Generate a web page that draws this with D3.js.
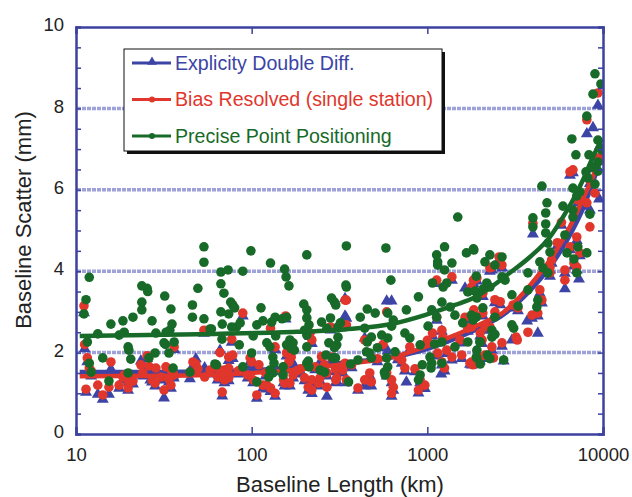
<!DOCTYPE html>
<html><head><meta charset="utf-8">
<script src="https://cdn.jsdelivr.net/npm/d3@7"></script>
<style>body{margin:0;background:#fff}svg{display:block}text{font-family:"Liberation Sans",Arial,Helvetica,sans-serif}</style>
</head><body><svg id="c" width="632" height="497"></svg>
<script>
const xTicks=[10,100,1000,10000];
const yTicks=[0,2,4,6,8,10];
const gridValues=[2,4,6,8];
const seriesNames=["Explicity Double Diff.","Bias Resolved (single station)","Precise Point Positioning"];

const blueFit=[[10.5,1.52],[30,1.52],[100,1.56],[200,1.65],[340,1.75],[655,1.9],[968,2.08],[1436,2.35],[2128,2.68],[2692,2.93],[3365,3.28],[4207,3.72],[5190,4.22],[6486,4.9],[7690,5.55],[8750,6.2],[9860,6.85]];
const redFit=[[10.5,1.42],[30,1.43],[100,1.5],[200,1.6],[340,1.72],[655,1.9],[968,2.14],[1436,2.43],[2128,2.75],[2692,2.98],[3365,3.37],[4207,3.86],[5190,4.38],[6486,5.1],[7690,5.78],[9230,6.6],[9860,7.05]];
const greenFit=[[10.5,2.41],[62,2.46],[150,2.5],[340,2.57],[655,2.72],[968,2.92],[1436,3.17],[1866,3.36],[2270,3.59],[2951,3.96],[3836,4.35],[4990,4.84],[5915,5.33],[6745,5.75],[7690,6.24],[8750,6.8],[9860,7.25]];

const bluePts=[[11.1,3.0],[11.2,2.12],[11.6,1.8],[11.4,1.05],[11.9,1.5],[12.2,1.45],[13.3,1.0],[14.2,0.88],[15.4,1.0],[15.8,1.62],[17.6,1.15],[18.5,1.35],[18.8,1.4],[19.8,1.1],[20,1.3],[20.5,1.45],[21.1,1.25],[23.4,1.82],[24,1.45],[24.5,1.55],[25.4,1.88],[26,1.6],[27.1,1.3],[28.5,1.55],[28.2,1.2],[26.5,1.35],[30.5,1.35],[31.7,0.91],[32.5,1.6],[33.8,1.3],[34.7,1.15],[35.7,1.45],[36.2,2.1],[36,1.4],[35,1.5],[44.5,1.38],[46.3,1.7],[48.1,1.87],[49.4,1.55],[53.5,2.5],[54,1.65],[58,1.5],[61.8,1.6],
[89,2.92],[156,2.85],[77,2.28],[66,2.08],[74,1.83],[78,1.88],[66,1.5],[70,1.52],[74,1.56],[64,1.35],[70,1.28],[74,1.33],[68,0.96],[98,1.8],[100,1.72],[110,1.65],[102,1.28],[107,0.9],[116,1.15],[122,1.13],[128,1.07],[136,0.95],[128,2.55],[136,2.1],[158,1.94],[168,1.83],[163,1.72],[154,1.6],[152,1.28],[154,1.2],[165,1.2],[172,1.4],[215,2.42],[220,2.25],[200,1.33],[220,1.28],[220,1.02],[210,1.1],[240,1.2],[245,1.32],[268,1.45],[268,0.95],[281,2.58],[285,1.83],[301,1.28],[305,1.32],[340,3.35],[340,2.92],[330,1.52],[346,1.28],[180,1.5],[190,1.55],[120,1.45],[95,1.4],[84,1.5],[260,1.65],[300,1.55],[230,1.6],[250,1.85],[140,1.55],[175,1.7],
[346,2.87],[440,2.38],[340,1.68],[371,1.65],[470,1.45],[480,1.2],[440,1.2],[403,1.1],[626,1.28],[640,1.1],[626,0.95],[587,1.45],[587,3.29],[626,3.29],[795,2.1],[745,1.57],[715,1.76],[910,1.28],[968,1.14],[890,1.03],[1070,2.43],[1130,2.82],[1130,3.72],[1380,3.8],[1210,2.55],[1225,2.33],[1145,1.94],[1210,1.72],[1253,1.57],[1290,2.0],[1380,1.84],[1530,2.26],[1570,1.88],[1750,1.74],[1640,3.61],[1830,3.72],[1640,2.82],[1700,2.55],[2000,2.43],[2050,2.25],[595,2.06],[550,2.14],[520,1.8],[680,1.85],[850,1.55],[1000,2.25],[560,2.15],[760,1.3],[1200,1.5],
[9360,8.1],[8770,7.55],[8090,7.4],[9360,6.72],[9000,6.54],[6745,6.44],[6486,6.38],[8420,6.18],[9500,5.8],[8420,5.53],[7190,5.7],[8090,5.62],[7090,4.78],[6486,4.55],[7380,4.4],[6830,4.15],[7090,4.05],[6070,3.97],[6070,3.59],[7300,3.83],[3990,4.94],[5100,4.22],[4990,4.05],[4990,3.9],[4370,3.48],[4490,3.24],[4255,2.92],[3940,2.87],[3700,2.8],[4255,2.5],[3080,3.12],[3280,3.05],[3030,2.33],[2660,4.1],[2560,4.3],[2330,4.05],[2270,4.02],[1915,3.78],[2425,3.25],[2600,3.2],[2425,2.95],[1870,3.54],[2070,3.4],[2070,2.92],[1840,3.0],[1820,2.75],[2270,2.58],[2128,2.58],[2330,2.08],[2660,2.18],[2128,1.88],[1990,1.82],[2720,1.82],[1790,1.72],[5500,4.65],[5800,5.15],[9860,6.9],[9600,7.1]];

const redPts=[[11.1,3.15],[11.2,2.2],[11.6,1.87],[11.4,1.1],[11.9,1.62],[12.2,1.55],[13.3,1.2],[14.2,0.96],[15.4,1.15],[15.8,1.77],[17.6,1.2],[18.5,1.4],[18.8,1.45],[19.8,1.13],[20.0,1.28],[21.1,1.3],[23.4,1.7],[24,1.5],[25.4,1.92],[26,1.67],[27.1,1.33],[28.5,1.62],[28.2,1.25],[30.5,1.4],[31.7,1.08],[32.5,1.65],[33.8,1.35],[34.7,1.2],[35.7,1.5],[36.2,2.14],[36,1.45],[35,1.55],[44.5,1.52],[46.3,1.77],[48.1,1.72],[49.4,1.6],[53.5,2.55],[54,1.4],[58,1.57],[61.8,1.65],
[89,2.97],[156,2.9],[77,2.33],[66,2.0],[74,1.89],[78,1.94],[66,1.57],[70,1.57],[74,1.62],[64,1.4],[70,1.33],[74,1.38],[68,1.03],[98,1.87],[100,1.77],[110,1.7],[102,1.33],[107,0.96],[116,1.2],[122,1.2],[128,1.13],[136,1.0],[128,2.6],[136,2.14],[158,1.99],[168,1.89],[163,1.77],[154,1.65],[152,1.33],[154,1.25],[165,1.25],[172,1.45],[215,2.48],[220,2.31],[200,1.38],[220,1.33],[220,1.08],[210,1.15],[240,1.25],[245,1.38],[268,1.5],[268,1.15],[281,2.63],[285,1.89],[301,1.33],[305,1.38],[340,3.29],[330,1.57],[346,1.33],[180,1.55],[190,1.6],[120,1.5],[95,1.45],[84,1.55],[260,1.7],[300,1.6],[230,1.65],[250,1.9],
[346,3.29],[346,2.68],[440,2.31],[340,1.74],[371,1.7],[470,1.5],[480,1.28],[440,1.33],[403,1.13],[626,1.33],[640,1.15],[626,1.0],[587,1.5],[587,3.0],[795,2.14],[745,1.62],[715,1.82],[910,1.33],[968,1.2],[890,1.08],[1070,2.48],[1130,2.87],[1130,3.78],[1380,3.86],[1210,2.55],[1225,2.38],[1145,1.99],[1210,1.77],[1253,1.62],[1290,2.06],[1380,1.89],[1530,2.31],[1570,1.94],[1750,1.74],[1780,3.61],[1830,3.78],[1640,2.87],[1700,2.6],[2000,2.48],[2050,2.31],[520,1.85],[680,1.9],[850,1.6],[1000,2.3],[560,2.2],
[9360,8.38],[8090,7.72],[9360,6.78],[9730,6.73],[6745,6.49],[6486,6.44],[8420,6.24],[9000,5.92],[8420,5.09],[7190,5.75],[8090,5.68],[7090,4.84],[6486,4.6],[7380,4.45],[6830,4.2],[7090,4.1],[6070,4.03],[6070,3.78],[3990,5.18],[5100,4.28],[4990,4.1],[4990,3.96],[4370,3.54],[4490,3.29],[4255,2.97],[3940,2.92],[3740,2.5],[3080,3.17],[3280,3.1],[3200,2.38],[3250,2.31],[2660,4.15],[2560,4.35],[2330,4.1],[2270,4.08],[1915,3.83],[2425,3.3],[2600,3.25],[2425,3.0],[2070,3.46],[2070,2.97],[1840,3.05],[1820,2.8],[1790,2.63],[2270,2.63],[2128,2.63],[2330,2.14],[2660,2.24],[2128,1.94],[1990,1.87],[2380,1.87],[1790,1.77],[1820,1.7],[5500,4.7],[5800,5.2]];

const greenPts=[[11.1,2.95],[11.4,3.3],[11.9,3.85],[11.6,2.26],[11.9,1.74],[12.2,1.52],[14.2,1.87],[13.3,2.46],[15.8,2.7],[15.4,1.3],[17.6,2.43],[18.5,2.78],[18.8,2.5],[19.8,2.14],[20,2.06],[20.5,1.84],[19.8,1.5],[21.1,2.87],[23.7,3.64],[25.4,3.58],[25.6,3.5],[23.7,3.24],[23.7,3.05],[27.1,2.78],[28.5,2.48],[28.2,1.99],[26,1.87],[32,3.39],[34.7,3.07],[35.2,2.7],[34.2,2.55],[32.6,2.5],[31.7,2.24],[32.3,2.2],[33.8,1.99],[36.2,2.26],[35.7,1.62],[46,3.17],[46,2.87],[49.4,3.58],[53.5,4.22],[53.5,4.6],[53.5,2.83],[58,2.58],[44.5,1.52],[61.8,1.72],
[99,4.5],[66.8,3.98],[73.4,4.03],[89,4.0],[128,4.2],[206,4.4],[346,4.62],[154,4.05],[157,3.86],[163,3.64],[66.8,3.69],[69.5,3.46],[76,3.24],[78,3.17],[80,3.1],[66.8,3.0],[74,2.95],[68,2.7],[77,2.63],[82,2.63],[86,2.73],[113,3.1],[107,2.68],[116,2.78],[102,2.41],[85,2.19],[67.8,2.33],[59,2.58],[130,2.75],[136,2.87],[149,2.83],[158,2.87],[137,2.41],[122,2.24],[127,2.14],[165,2.31],[158,2.19],[172,2.24],[168,2.1],[175,2.06],[198,3.19],[206,3.05],[206,2.85],[212,2.68],[200,2.55],[206,2.43],[206,2.14],[210,1.79],[206,1.74],[212,1.65],[132,1.89],[134,1.74],[127,1.57],[132,1.5],[125,1.4],[100,1.99],[89,1.65],[63,1.7],[151,1.65],[151,1.45],[107,1.28],[250,2.75],[281,2.85],[268,2.6],[285,3.34],[296,3.24],[301,3.17],[275,2.24],[305,2.19],[296,2.12],[310,2.38],[310,2.63],[320,2.73],[265,1.94],[290,1.87],[300,1.87],[344,3.66],[245,1.57],[260,1.52],
[581,4.57],[1490,5.33],[1253,4.6],[1670,4.45],[1830,4.55],[1130,4.4],[1145,4.23],[1145,4.15],[1380,4.2],[1253,4.03],[1290,3.71],[1230,3.61],[346,3.61],[620,3.78],[890,3.37],[1070,3.71],[1210,3.24],[1900,3.88],[1700,3.49],[455,3.07],[505,2.97],[415,2.87],[760,3.05],[595,2.97],[640,2.8],[626,2.65],[440,2.6],[1060,3.05],[1130,2.87],[1010,2.65],[1350,3.12],[1436,2.92],[1590,2.73],[1780,2.92],[1900,2.87],[550,2.43],[595,2.36],[480,2.38],[455,2.26],[745,2.48],[795,2.36],[910,2.19],[520,2.12],[450,2.02],[470,1.99],[480,1.87],[403,1.82],[366,1.72],[356,1.28],[587,1.87],[595,1.65],[570,1.52],[575,1.45],[655,2.02],[936,1.7],[910,1.45],[890,1.33],[1035,1.89],[1060,1.74],[1050,1.62],[1100,2.21],[1210,2.26],[1210,1.74],[1436,2.14],[1700,2.26],[2000,2.26],[1900,1.89],
[9000,8.85],[9730,8.6],[8770,8.35],[8090,7.81],[9360,7.22],[9860,6.98],[6650,7.25],[7010,6.86],[8320,6.86],[9360,6.68],[8000,6.44],[8650,6.56],[8200,6.29],[9360,6.46],[9000,6.14],[4490,6.09],[6745,6.04],[7380,5.95],[7090,5.85],[4800,5.68],[4720,5.43],[5915,5.6],[8420,5.4],[3990,5.31],[3990,5.09],[4720,5.16],[4720,4.94],[6745,5.5],[6745,5.33],[6070,4.89],[4860,4.69],[4990,4.47],[6240,4.45],[6830,4.3],[7190,4.6],[8090,4.45],[4370,4.23],[4550,4.08],[4860,3.96],[7090,3.96],[2660,4.35],[2270,4.4],[2128,4.23],[2425,4.15],[1840,4.52],[3740,3.96],[2180,3.71],[2270,3.61],[2660,3.86],[2770,3.78],[1870,3.51],[1915,3.34],[2070,3.56],[3740,3.54],[4255,3.29],[4200,3.12],[3030,3.42],[3280,3.14],[2070,3.1],[1870,2.87],[1820,2.8],[2425,2.87],[2330,2.38],[1990,2.26],[1915,2.06],[3030,2.68],[3100,2.6],[2330,2.55],[2425,2.45],[2200,1.94],[2270,1.85],[1915,1.87],[2000,1.72],[2720,1.82]];

const BLUE="#3c44a6", RED="#e0362c", GREEN="#176a28", FRAME="#3c429e", GRID="#9ea2d8";

const svg=d3.select("#c");
const x=d3.scaleLog().domain([10,10000]).range([76,603]);
const y=d3.scaleLinear().domain([0,10]).range([434,27]);

svg.append("defs").append("clipPath").attr("id","clip").append("rect")
  .attr("x",76).attr("y",27).attr("width",527).attr("height",407);

// grid
svg.append("g").selectAll("line").data(gridValues).join("line")
  .attr("x1",77).attr("x2",602).attr("y1",d=>y(d)).attr("y2",d=>y(d))
  .attr("stroke",GRID).attr("stroke-width",3.5).attr("stroke-dasharray","4,1");

const plot=svg.append("g").attr("clip-path","url(#clip)");
const line=d3.line().x(d=>x(d[0])).y(d=>y(d[1])).curve(d3.curveMonotoneX);
const tri=d3.symbol().type(d3.symbolTriangle).size(62);

plot.append("g").selectAll("path").data(bluePts).join("path")
  .attr("d",tri).attr("transform",d=>`translate(${x(d[0])},${y(d[1])+1})`).attr("fill",BLUE);
plot.append("path").datum(blueFit).attr("d",line).attr("fill","none").attr("stroke",BLUE).attr("stroke-width",5);
plot.append("g").selectAll("circle").data(redPts).join("circle")
  .attr("cx",d=>x(d[0])).attr("cy",d=>y(d[1])).attr("r",4.8).attr("fill",RED);
plot.append("path").datum(redFit).attr("d",line).attr("fill","none").attr("stroke",RED).attr("stroke-width",4.5);
plot.append("g").selectAll("circle").data(greenPts).join("circle")
  .attr("cx",d=>x(d[0])).attr("cy",d=>y(d[1])).attr("r",4.8).attr("fill",GREEN);
plot.append("path").datum(greenFit).attr("d",line).attr("fill","none").attr("stroke",GREEN).attr("stroke-width",4.5);

// axes
const minorY=d3.range(0,10.01,0.5);
const axL=svg.append("g").attr("transform","translate(76,0)")
  .call(d3.axisLeft(y).tickValues(minorY).tickSize(-5).tickPadding(12).tickFormat(d=>yTicks.includes(d)?d:""));
const axR=svg.append("g").attr("transform","translate(603,0)")
  .call(d3.axisRight(y).tickValues(minorY).tickSize(-5).tickFormat(""));
const axB=svg.append("g").attr("transform","translate(0,434)")
  .call(d3.axisBottom(x).tickValues(xTicks).tickSize(-7).tickPadding(14).tickFormat(d3.format("d")));
const axT=svg.append("g").attr("transform","translate(0,27)")
  .call(d3.axisTop(x).tickValues(xTicks).tickSize(-7).tickFormat(""));
[axL,axR,axB,axT].forEach(a=>{
  a.select(".domain").attr("stroke",FRAME).attr("stroke-width",2.5);
  a.selectAll(".tick line").attr("stroke",FRAME).attr("stroke-width",1.5);
  a.selectAll("text").attr("font-size",18.5).attr("fill","#222").attr("font-family",'"Liberation Sans",Arial,sans-serif');
});
axL.selectAll("text").attr("dy","0.2em");

svg.append("text").attr("x",340).attr("y",492).attr("text-anchor","middle")
  .attr("font-size",22).attr("fill","#222").text("Baseline Length (km)");
svg.append("text").attr("transform","translate(31,220) rotate(-90)").attr("text-anchor","middle")
  .attr("font-size",22).attr("fill","#222").text("Baseline Scatter (mm)");

// legend
const lg=svg.append("g");
lg.append("rect").attr("x",127).attr("y",52).attr("width",318).attr("height",102).attr("fill","#111");
lg.append("rect").attr("x",124).attr("y",49).attr("width",318).attr("height",102).attr("fill","#fff").attr("stroke","#111").attr("stroke-width",1);
const cols=[BLUE,RED,GREEN];
const rows=lg.selectAll("g.r").data(seriesNames).join("g").attr("class","r")
  .attr("transform",(d,i)=>`translate(0,${63+i*36.5})`);
rows.append("line").attr("x1",132).attr("x2",171).attr("stroke",(d,i)=>cols[i]).attr("stroke-width",3);
rows.filter((d,i)=>i===0).append("path").attr("d",d3.symbol().type(d3.symbolTriangle).size(40)).attr("transform","translate(152,-1)").attr("fill",BLUE);
rows.filter((d,i)=>i>0).append("circle").attr("cx",152).attr("r",3).attr("fill",(d,i)=>cols[i+1]);
rows.append("text").attr("x",175).attr("y",6.5).attr("font-size",19.6).attr("fill",(d,i)=>cols[i]).text(d=>d);
</script></body></html>
